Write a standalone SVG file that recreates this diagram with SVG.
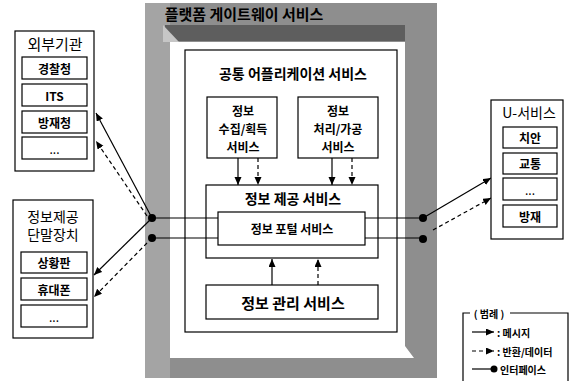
<svg xmlns="http://www.w3.org/2000/svg" width="575" height="381" viewBox="0 0 575 381">
<defs>
<marker id="ah" markerWidth="9" markerHeight="8" refX="8" refY="3.5" orient="auto" markerUnits="userSpaceOnUse"><path d="M0,0 L8,3.5 L0,7 Z" fill="#000"/></marker>
</defs>
<style>
.box{fill:#fff;stroke:#000;stroke-width:1.2}
.t{font-family:"Noto Sans CJK KR","Noto Sans",sans-serif;fill:#000;text-anchor:middle;dominant-baseline:central}
.b{font-weight:bold}
.s{stroke:#000;stroke-width:1.2;fill:none}
.d{stroke-dasharray:4,3}
.dot{fill:#000}
</style>
<rect width="575" height="381" fill="#fff"/>
<g id="gateway">
<rect x="145" y="3" width="292" height="375" fill="#8e8e8e"/>
<rect x="145" y="3" width="25" height="375" fill="#a4a4a4"/>
<rect x="165" y="25" width="240" height="16" fill="#5e5e5e"/>
<polygon points="163,25 179,42 163,42" fill="#c6c6c6"/>
<polygon points="170,42 405,42 405,346 414,358 170,358" fill="#fff"/>
<text class="t b" x="244" y="13" font-size="15">플랫폼 게이트웨이 서비스</text>
</g>
<g id="common">
<rect class="box" x="185" y="50" width="212" height="282"/>
<text class="t b" x="293" y="73" font-size="14">공통 어플리케이션 서비스</text>
</g>
<g id="collect">
<rect class="box" x="207" y="97" width="70" height="61"/>
<text class="t b" x="243" y="110" font-size="12">정보</text>
<text class="t b" x="243" y="128" font-size="12">수집/획득</text>
<text class="t b" x="243" y="146" font-size="12">서비스</text>
</g>
<g id="process">
<rect class="box" x="298" y="97" width="80" height="61"/>
<text class="t b" x="338" y="110" font-size="12">정보</text>
<text class="t b" x="338" y="128" font-size="12">처리/가공</text>
<text class="t b" x="338" y="146" font-size="12">서비스</text>
</g>
<g id="provide">
<rect class="box" x="206" y="185" width="172" height="73"/>
<text class="t b" x="293" y="198" font-size="14">정보 제공 서비스</text>
</g>
<g id="connectors">
<line class="s" x1="152" y1="218" x2="423" y2="218"/>
<line class="s" x1="152" y1="238" x2="423" y2="238"/>
<line class="s" x1="238" y1="158" x2="238" y2="185" marker-end="url(#ah)"/>
<line class="s d" x1="258" y1="158" x2="258" y2="185" marker-end="url(#ah)"/>
<line class="s" x1="332" y1="158" x2="332" y2="185" marker-end="url(#ah)"/>
<line class="s d" x1="352" y1="158" x2="352" y2="185" marker-end="url(#ah)"/>
<line class="s" x1="272" y1="285" x2="272" y2="259" marker-end="url(#ah)"/>
<line class="s d" x1="318" y1="285" x2="318" y2="259" marker-end="url(#ah)"/>
<line class="s" x1="152" y1="218" x2="96" y2="113" marker-end="url(#ah)"/>
<line class="s d" x1="147" y1="216" x2="96" y2="141" marker-end="url(#ah)"/>
<line class="s" x1="152" y1="218" x2="94" y2="275" marker-end="url(#ah)"/>
<line class="s d" x1="147" y1="243" x2="94" y2="297" marker-end="url(#ah)"/>
<line class="s" x1="423" y1="218" x2="491" y2="178" marker-end="url(#ah)"/>
<line class="s d" x1="433" y1="230" x2="491" y2="198" marker-end="url(#ah)"/>
<circle class="dot" cx="152" cy="218" r="4"/>
<circle class="dot" cx="152" cy="238" r="4"/>
<circle class="dot" cx="423" cy="218" r="4"/>
<circle class="dot" cx="423" cy="239" r="4"/>
</g>
<g id="portal">
<rect class="box" x="218" y="212" width="147" height="33"/>
<text class="t b" x="292" y="228" font-size="12">정보 포털 서비스</text>
</g>
<g id="manage">
<rect class="box" x="206" y="285" width="172" height="34"/>
<text class="t b" x="293" y="302" font-size="15">정보 관리 서비스</text>
</g>
<g id="external">
<rect class="box" x="15" y="31" width="79" height="140"/>
<text class="t" x="55" y="43" font-size="15">외부기관</text>
<rect class="box" x="22" y="57" width="65" height="22"/>
<text class="t b" x="54.5" y="68" font-size="12">경찰청</text>
<rect class="box" x="22" y="84" width="65" height="22"/>
<text class="t b" x="54.5" y="95" font-size="12">ITS</text>
<rect class="box" x="22" y="111" width="65" height="22"/>
<text class="t b" x="54.5" y="122" font-size="12">방재청</text>
<rect class="box" x="22" y="137" width="65" height="22"/>
<text class="t" x="54.5" y="148" font-size="12">...</text>
</g>
<g id="terminal">
<rect class="box" x="13" y="200" width="80" height="138"/>
<text class="t" x="53" y="216" font-size="14">정보제공</text>
<text class="t" x="53" y="234" font-size="14">단말장치</text>
<rect class="box" x="21" y="252" width="66" height="21"/>
<text class="t b" x="54" y="262.5" font-size="12">상황판</text>
<rect class="box" x="21" y="278" width="66" height="22"/>
<text class="t b" x="54" y="289" font-size="12">휴대폰</text>
<rect class="box" x="21" y="305" width="66" height="22"/>
<text class="t" x="54" y="316" font-size="12">...</text>
</g>
<g id="uservice">
<rect class="box" x="491" y="100" width="72" height="139"/>
<text class="t" x="529" y="112" font-size="14">U-서비스</text>
<rect class="box" x="503" y="127" width="54" height="21"/>
<text class="t b" x="530" y="137.5" font-size="12">치안</text>
<rect class="box" x="503" y="153" width="54" height="21"/>
<text class="t b" x="530" y="163.5" font-size="12">교통</text>
<rect class="box" x="503" y="178" width="54" height="22"/>
<text class="t" x="530" y="189" font-size="12">...</text>
<rect class="box" x="503" y="205" width="54" height="22"/>
<text class="t b" x="530" y="216" font-size="12">방재</text>
</g>
<g id="legend">
<polyline class="s" points="470,313 463,313 463,381"/>
<polyline class="s" points="510,313 568,313 568,381"/>
<text class="t b" x="489" y="313" font-size="10">( 범례 )</text>
<line class="s" x1="472" y1="332" x2="494" y2="332" marker-end="url(#ah)"/>
<text class="t b" x="497" y="332" font-size="10" style="text-anchor:start">: 메시지</text>
<line class="s d" x1="472" y1="351" x2="494" y2="351" marker-end="url(#ah)"/>
<text class="t b" x="497" y="351" font-size="10" style="text-anchor:start">: 반환/데이터</text>
<line class="s" x1="472" y1="369" x2="492" y2="369"/>
<circle class="dot" cx="494" cy="369" r="3.5"/>
<text class="t b" x="500" y="369" font-size="10" style="text-anchor:start">인터페이스</text>
</g>
</svg>
